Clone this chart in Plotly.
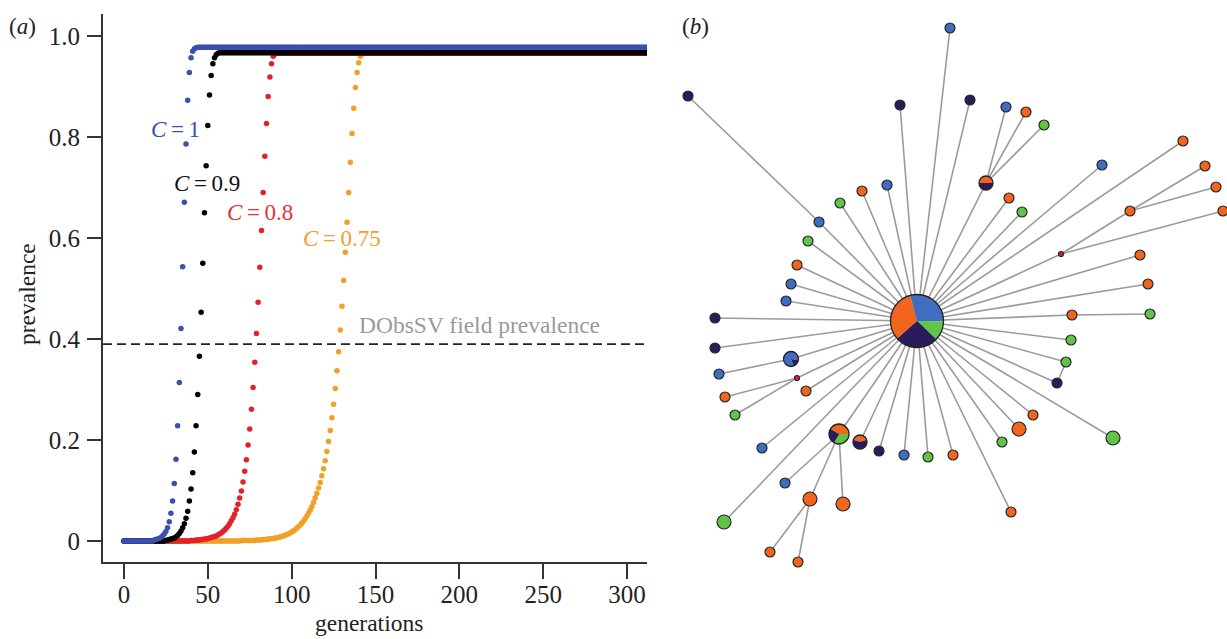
import plotly.graph_objects as go

# ---------------- panel (a) data ----------------
n_generations = 313
generations = list(range(n_generations))

blue_start = 18
blue_rise = [0.002, 0.003, 0.004, 0.005, 0.007, 0.010, 0.014, 0.019, 0.026, 0.038,
             0.055, 0.079, 0.114, 0.162, 0.228, 0.314, 0.421, 0.543, 0.671, 0.786,
             0.873, 0.928, 0.957, 0.970, 0.975, 0.977]
blue_plateau = 0.978

black_start = 25
black_rise = [0.001, 0.002, 0.003, 0.004, 0.005, 0.006, 0.008, 0.011, 0.015, 0.020,
              0.026, 0.034, 0.045, 0.059, 0.079, 0.103, 0.135, 0.176, 0.228, 0.290,
              0.366, 0.453, 0.550, 0.650, 0.743, 0.823, 0.883, 0.922, 0.945, 0.957,
              0.963, 0.966]
black_plateau = 0.967

red_start = 40
red_rise = [0.001, 0.001, 0.001, 0.002, 0.002, 0.002, 0.003, 0.003, 0.004, 0.004,
            0.005, 0.006, 0.007, 0.008, 0.009, 0.010, 0.012, 0.014, 0.016, 0.019,
            0.022, 0.025, 0.029, 0.034, 0.040, 0.046, 0.053, 0.062, 0.073, 0.085,
            0.099, 0.117, 0.138, 0.161, 0.190, 0.222, 0.261, 0.304, 0.354, 0.411,
            0.473, 0.542, 0.615, 0.690, 0.762, 0.827, 0.880, 0.919, 0.945, 0.960,
            0.964]
red_plateau = 0.966

orange_start = 70
orange_rise = [0.001, 0.001, 0.001, 0.001, 0.001, 0.001, 0.001, 0.001, 0.001, 0.002,
               0.002, 0.002, 0.002, 0.003, 0.003, 0.003, 0.004, 0.004, 0.005, 0.005,
               0.006, 0.006, 0.007, 0.008, 0.009, 0.010, 0.011, 0.013, 0.014, 0.016,
               0.018, 0.020, 0.022, 0.025, 0.028, 0.031, 0.035, 0.039, 0.044, 0.049,
               0.055, 0.061, 0.068, 0.076, 0.085, 0.094, 0.105, 0.116, 0.129, 0.143,
               0.159, 0.177, 0.197, 0.219, 0.244, 0.271, 0.302, 0.337, 0.375, 0.418,
               0.465, 0.516, 0.572, 0.631, 0.690, 0.750, 0.807, 0.857, 0.898, 0.928,
               0.947, 0.960, 0.964]
orange_plateau = 0.966

field_prevalence = 0.39
x_ticks = [0, 50, 100, 150, 200, 250, 300]
y_ticks = [0, 0.2, 0.4, 0.6, 0.8, 1.0]
y_ticktext = ["0", "0.2", "0.4", "0.6", "0.8", "1.0"]


def build(start, rise, plateau):
    return [0.0] * start + rise + [plateau] * (n_generations - start - len(rise))


series_a = [
    ("C=0.75", build(orange_start, orange_rise, orange_plateau), "#f0a024"),
    ("C=0.8", build(red_start, red_rise, red_plateau), "#e2222b"),
    ("C=0.9", build(black_start, black_rise, black_plateau), "#000000"),
    ("C=1", build(blue_start, blue_rise, blue_plateau), "#3a4fae"),
]
curve_labels = ["<i>C</i>\u2009=\u20091", "<i>C</i>\u2009=\u20090.9",
                "<i>C</i>\u2009=\u20090.8", "<i>C</i>\u2009=\u20090.75"]
label_gen = [31.0, 49.6, 81.4, 129.8]
label_val = [0.814, 0.708, 0.650, 0.599]
label_colors = ["#3a4fae", "#111111", "#e2333b", "#f0a030"]

# ---------------- panel (b) network data (pixel layout) ----------------
node_x = [917, 688, 900, 950, 887, 862, 840, 819, 808, 797, 791, 786, 715, 715, 719,
          797, 806, 725, 735, 762, 785, 810, 843, 724, 770, 798, 879, 904, 928, 953,
          1011, 1002, 1019, 1033, 1113, 1057, 1066, 1071, 1072, 1150, 1148, 1140, 1061,
          1130, 1223, 1205, 1216, 1183, 1102, 1022, 1009, 970, 1006, 1026, 1044,
          986, 791, 839, 860]
node_y = [321, 96, 105, 28, 185, 191, 203, 222, 241, 265, 284, 301, 318, 348, 374,
          378, 391, 397, 415, 448, 483, 499, 504, 522, 552, 562, 451, 455, 457, 455,
          512, 442, 429, 415, 438, 383, 362, 340, 315, 314, 284, 255, 254,
          211, 211, 166, 187, 141, 165, 212, 198, 100, 107, 112, 125,
          183, 359, 434, 442]
node_size = [53, 10, 10, 10, 10, 10, 10, 10, 10, 10, 10, 10, 10, 10, 10,
             5, 10, 10, 10, 10, 10, 14, 14, 14, 10, 10, 10, 10, 10, 10,
             10, 10, 14, 10, 14, 10, 10, 10, 10, 10, 10, 10, 5,
             10, 10, 10, 10, 10, 10, 10, 10, 10, 10, 10, 10,
             14, 15, 20, 14]
node_group = ["pie", "purple", "purple", "blue", "blue", "orange", "green", "blue", "green",
              "orange", "blue", "blue", "purple", "purple", "blue", "red", "orange", "orange",
              "green", "blue", "blue", "orange", "orange", "green", "orange", "orange", "purple",
              "blue", "green", "orange", "orange", "green", "orange", "orange", "green", "purple",
              "green", "green", "orange", "green", "orange", "orange", "red", "orange", "orange",
              "orange", "orange", "orange", "blue", "green", "orange", "purple", "blue", "orange",
              "green", "pie", "pie", "pie", "pie"]
edges = [(0, k) for k in [2, 3, 4, 5, 6, 7, 8, 9, 10, 11, 12, 13, 15, 16, 19, 23, 26, 27,
                          28, 29, 30, 31, 32, 33, 34, 35, 36, 37, 38, 40, 41, 42, 47, 48,
                          49, 50, 51, 55, 56, 57, 58]]
edges += [(7, 1), (38, 39), (36, 35), (15, 17), (15, 18), (56, 14), (57, 20), (57, 21),
          (57, 22), (21, 24), (21, 25), (55, 52), (55, 53), (55, 54), (42, 43), (42, 44),
          (43, 45), (43, 46)]

pie_ids = [0, 55, 56, 57, 58]
pie_values = [[10, 4, 9, 11], [1, 1], [5, 1], [5, 4, 3], [2, 3]]
pie_groups = [["blue", "green", "purple", "orange"], ["orange", "purple"],
              ["blue", "purple"], ["orange", "green", "purple"], ["orange", "purple"]]
pie_rotation = [-15, -90, 160, -60, -72]

group_color = {"blue": "#3f6dc0", "orange": "#f2651f", "green": "#62c446",
               "purple": "#2a1b5c", "red": "#e3202a"}

W, H = 1227, 639
SERIF = "Liberation Serif"

fig = go.Figure()

# ---- panel (a) ----
for name, vals, col in series_a:
    fig.add_trace(go.Scatter(x=generations, y=vals, mode="markers", name=name,
                             marker=dict(size=5.5, color=col, line=dict(width=0)),
                             xaxis="x", yaxis="y", hoverinfo="skip", showlegend=False))

# ---- panel (b) edges ----
ex, ey = [], []
for a, b in edges:
    ex += [node_x[a], node_x[b], None]
    ey += [node_y[a], node_y[b], None]
fig.add_trace(go.Scatter(x=ex, y=ey, mode="lines", line=dict(color="#9b9b9b", width=1.6),
                         xaxis="x2", yaxis="y2", hoverinfo="skip", showlegend=False))

single = [i for i in range(len(node_x)) if i not in pie_ids]
fig.add_trace(go.Scatter(
    x=[node_x[i] for i in single], y=[node_y[i] for i in single], mode="markers",
    marker=dict(size=[node_size[i] for i in single],
                color=[group_color[node_group[i]] for i in single],
                line=dict(color="#262626", width=1.2), opacity=1),
    xaxis="x2", yaxis="y2", hoverinfo="skip", showlegend=False, cliponaxis=False))

shapes = [dict(type="line", xref="x domain", yref="y", x0=0, x1=1,
               y0=field_prevalence, y1=field_prevalence,
               line=dict(color="#222222", width=1.8, dash="9px,5px"))]

for pid, vals, grps, rot in zip(pie_ids, pie_values, pie_groups, pie_rotation):
    cx, cy, r = node_x[pid], node_y[pid], node_size[pid] / 2
    fig.add_trace(go.Pie(values=vals, labels=[f"{g}{k}" for k, g in enumerate(grps)],
                         marker=dict(colors=[group_color[g] for g in grps],
                                     line=dict(width=0)),
                         sort=False, direction="clockwise", rotation=rot,
                         textinfo="none", hoverinfo="skip", showlegend=False,
                         domain=dict(x=[(cx - r) / W, (cx + r) / W],
                                     y=[1 - (cy + r) / H, 1 - (cy - r) / H])))
    shapes.append(dict(type="circle", xref="x2", yref="y2", layer="above",
                       x0=cx - r, x1=cx + r, y0=cy - r, y1=cy + r,
                       line=dict(color="#222222", width=1.3)))

CM = dict(xanchor="center", yanchor="middle", showarrow=False)
annotations = []
for txt, gx, gy, col in zip(curve_labels, label_gen, label_val, label_colors):
    annotations.append(dict(x=gx, y=gy, xref="x", yref="y", text=txt,
                            font=dict(family=SERIF, size=23, color=col), **CM))
annotations += [
    dict(x=212.3, y=0.428, xref="x", yref="y", text="DObsSV field prevalence",
         font=dict(family=SERIF, size=23.5, color="#9a9a9a"), **CM),
    dict(x=22.7 / W, y=1 - 26 / H, xref="paper", yref="paper", text="(<i>a</i>)",
         font=dict(family=SERIF, size=23, color="#222222"), **CM),
    dict(x=695.5 / W, y=1 - 26 / H, xref="paper", yref="paper", text="(<i>b</i>)",
         font=dict(family=SERIF, size=23, color="#222222"), **CM),
    dict(x=27 / W, y=1 - 294 / H, xref="paper", yref="paper", text="prevalence",
         textangle=-90, font=dict(family=SERIF, size=23.5, color="#222222"), **CM),
    dict(x=369 / W, y=1 - 623 / H, xref="paper", yref="paper", text="generations",
         font=dict(family=SERIF, size=23.5, color="#222222"), **CM),
]

axis_font = dict(family=SERIF, size=25, color="#222222")
fig.update_layout(
    width=W, height=H, margin=dict(l=0, r=0, t=0, b=0),
    paper_bgcolor="white", plot_bgcolor="white", showlegend=False,
    xaxis=dict(domain=[103 / W, 647 / W], range=[-12.5, 311.9], anchor="y",
               tickvals=x_ticks, ticks="outside", ticklen=15, tickwidth=1.6,
               tickcolor="#333333", showline=True, linecolor="#333333", linewidth=2,
               showgrid=False, zeroline=False, tickfont=axis_font, ticklabelstandoff=-6),
    yaxis=dict(domain=[77 / H, 625 / H], range=[-0.0416, 1.0436], anchor="x",
               tickvals=y_ticks, ticktext=y_ticktext, ticks="outside", ticklen=14,
               tickwidth=1.6, tickcolor="#333333", showline=True, linecolor="#333333",
               linewidth=2, showgrid=False, zeroline=False, tickfont=axis_font,
               ticklabelstandoff=2),
    xaxis2=dict(domain=[660 / W, 1], range=[660, 1227], anchor="y2", visible=False,
                showgrid=False, zeroline=False),
    yaxis2=dict(domain=[0, 1], range=[639, 0], anchor="x2", visible=False,
                showgrid=False, zeroline=False),
    shapes=shapes, annotations=annotations,
)

fig.write_html("out.html", config={"displayModeBar": False},
               post_script="document.body.style.margin='0';document.body.style.overflow='hidden';")
